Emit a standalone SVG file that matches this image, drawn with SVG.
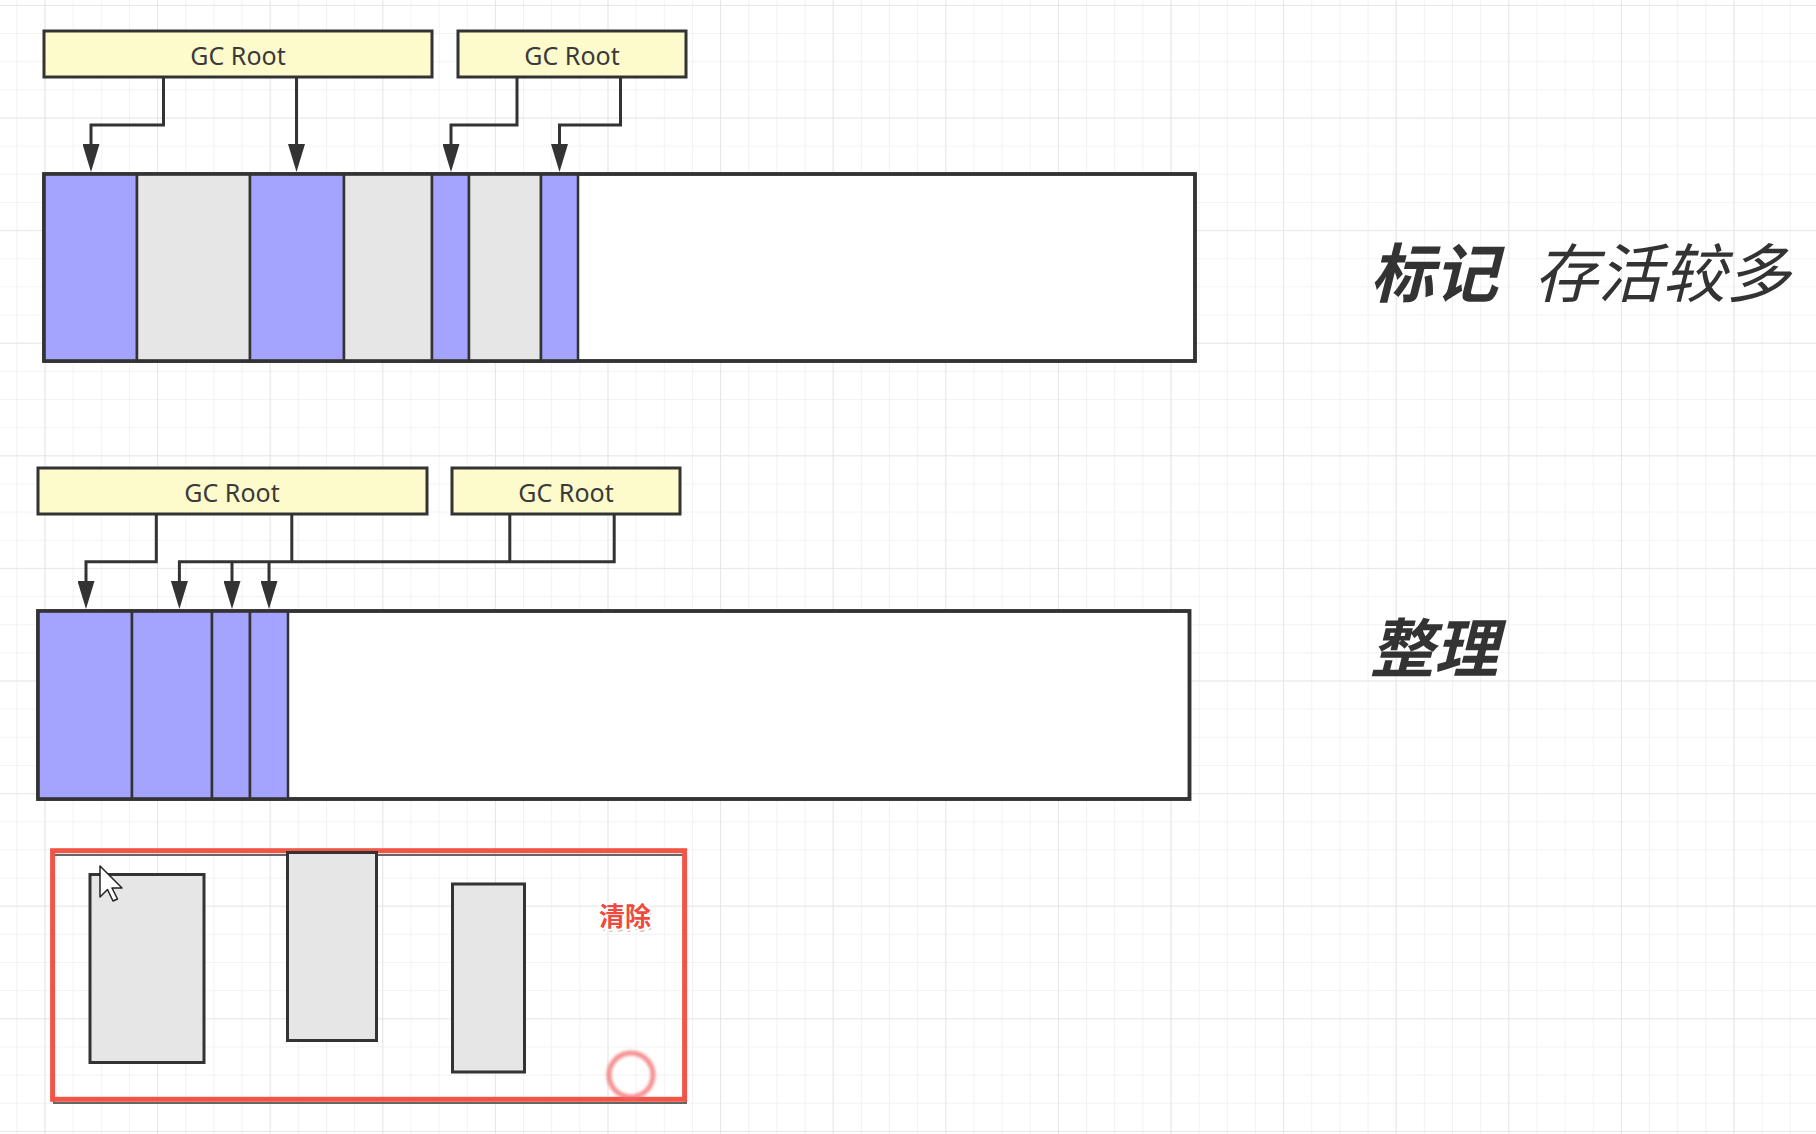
<svg xmlns="http://www.w3.org/2000/svg" width="1816" height="1134" viewBox="0 0 1816 1134">
<defs>
<pattern id="minor" patternUnits="userSpaceOnUse" x="16.35" y="4.9" width="28.15" height="28.15">
<path d="M0,0 H28.15 M0,0 V28.15" fill="none" stroke="#efefef" stroke-width="1.6"/>
</pattern>
<pattern id="major" patternUnits="userSpaceOnUse" x="44.5" y="4.9" width="112.6" height="112.6">
<path d="M0,0 H112.6 M0,0 V112.6" fill="none" stroke="#e4e4e4" stroke-width="1.6"/>
</pattern>
<marker id="arr" viewBox="0 0 28 17" refX="18" refY="8.5" markerWidth="28" markerHeight="17" markerUnits="userSpaceOnUse" orient="auto">
<path d="M0,0 L28,8.5 L0,17 z" fill="#333"/>
</marker>
<filter id="blur" x="-50%" y="-50%" width="200%" height="200%"><feGaussianBlur stdDeviation="1.6"/></filter>
</defs>
<style>
.root{fill:#fdfbcb;stroke:#333;stroke-width:3}
.rt{font-family:"Noto Sans","Open Sans",sans-serif;font-size:25px;fill:#3a3a3a;text-anchor:middle}
.live{fill:#a4a3fe;stroke:#333;stroke-width:2.5}
.dead{fill:#e6e6e6;stroke:#333;stroke-width:2.5}
.bar{fill:#fff;stroke:#333;stroke-width:3.5}
.outline{fill:none;stroke:#333;stroke-width:3.5}
.conn{fill:none;stroke:#333;stroke-width:3}
.lbl{font-family:"Noto Sans CJK SC",sans-serif;font-size:64px;fill:#333;font-style:italic}
.obj{fill:#e6e6e6;stroke:#333;stroke-width:3}
</style>
<rect width="1816" height="1134" fill="#fff"/>
<rect width="1816" height="1134" fill="url(#minor)"/>
<rect width="1816" height="1134" fill="url(#major)"/>

<!-- Section 1: mark -->
<g id="root1a"><rect class="root" x="44" y="31" width="388" height="46"/><text class="rt" x="238" y="65">GC Root</text></g>
<g id="root1b"><rect class="root" x="458" y="31" width="228" height="46"/><text class="rt" x="572" y="65">GC Root</text></g>
<g id="heap1">
<rect class="bar" x="44" y="174" width="1151" height="187"/>
<rect class="live" x="44" y="174" width="93" height="187"/>
<rect class="dead" x="137" y="174" width="113" height="187"/>
<rect class="live" x="250" y="174" width="94" height="187"/>
<rect class="dead" x="344" y="174" width="88" height="187"/>
<rect class="live" x="432" y="174" width="37" height="187"/>
<rect class="dead" x="469" y="174" width="72" height="187"/>
<rect class="live" x="541" y="174" width="37" height="187"/>
<rect class="outline" x="44" y="174" width="1151" height="187"/>
</g>

<!-- Section 2: compact -->
<g id="root2a"><rect class="root" x="38" y="468" width="389" height="46"/><text class="rt" x="232" y="502">GC Root</text></g>
<g id="root2b"><rect class="root" x="452" y="468" width="228" height="46"/><text class="rt" x="566" y="502">GC Root</text></g>
<g id="heap2">
<rect class="bar" x="38" y="611" width="1151.5" height="188"/>
<rect class="live" x="38" y="611" width="94" height="188"/>
<rect class="live" x="132" y="611" width="80" height="188"/>
<rect class="live" x="212" y="611" width="38" height="188"/>
<rect class="live" x="250" y="611" width="38" height="188"/>
<rect class="outline" x="38" y="611" width="1151.5" height="188"/>
</g>

<g id="connectors">
<path class="conn" d="M163.5,77 V125 H91 V162" marker-end="url(#arr)"/>
<path class="conn" d="M296.5,77 V162" marker-end="url(#arr)"/>
<path class="conn" d="M517,77 V125 H451 V162" marker-end="url(#arr)"/>
<path class="conn" d="M620.5,77 V125 H559.5 V162" marker-end="url(#arr)"/>
<path class="conn" d="M156.3,514 V561.7 H86 V599" marker-end="url(#arr)"/>
<path class="conn" d="M614.2,514 V561.7 H179.4 V599" marker-end="url(#arr)"/>
<path class="conn" d="M291.8,514 V561.7"/>
<path class="conn" d="M509.8,514 V561.7"/>
<path class="conn" d="M232,561.7 V599" marker-end="url(#arr)"/>
<path class="conn" d="M269,561.7 V599" marker-end="url(#arr)"/>
</g>

<!-- Labels -->
<g id="label-mark">
<text class="lbl" x="1370" y="297" font-weight="700">标记</text>
<text class="lbl" x="1534" y="297" font-size="60">存活较多</text>
</g>
<g id="label-compact">
<text class="lbl" x="1370" y="672" font-weight="700">整理</text>
</g>

<!-- Sweep illustration -->
<g id="sweep">
<rect x="54" y="855" width="632" height="248" fill="none" stroke="#666" stroke-width="2"/>
<rect x="52.6" y="850.7" width="632" height="248.6" fill="none" stroke="#f25546" stroke-width="5"/>
<rect class="obj" x="90" y="874.5" width="114" height="188"/>
<rect class="obj" x="287.5" y="852.5" width="89" height="188"/>
<rect class="obj" x="452.5" y="884" width="72" height="188"/>
<text x="626" y="929" font-family="Noto Sans CJK SC,sans-serif" font-size="26" font-weight="700" text-anchor="middle" fill="#999" opacity="0.7">清除</text>
<text x="625" y="926" font-family="Noto Sans CJK SC,sans-serif" font-size="26" font-weight="700" text-anchor="middle" fill="#f04a3e" stroke="#fff" stroke-width="4" paint-order="stroke" stroke-linejoin="round">清除</text>
<circle cx="631" cy="1075" r="22" fill="none" stroke="#f26a6a" stroke-width="5" opacity="0.75" filter="url(#blur)"/>
<path d="M100,866 V897 L107.5,889.5 L113,901 L117.5,899 L112,888 L122,888 Z" fill="#fff" stroke="#222" stroke-width="1.5" stroke-linejoin="round"/>
</g>
</svg>
